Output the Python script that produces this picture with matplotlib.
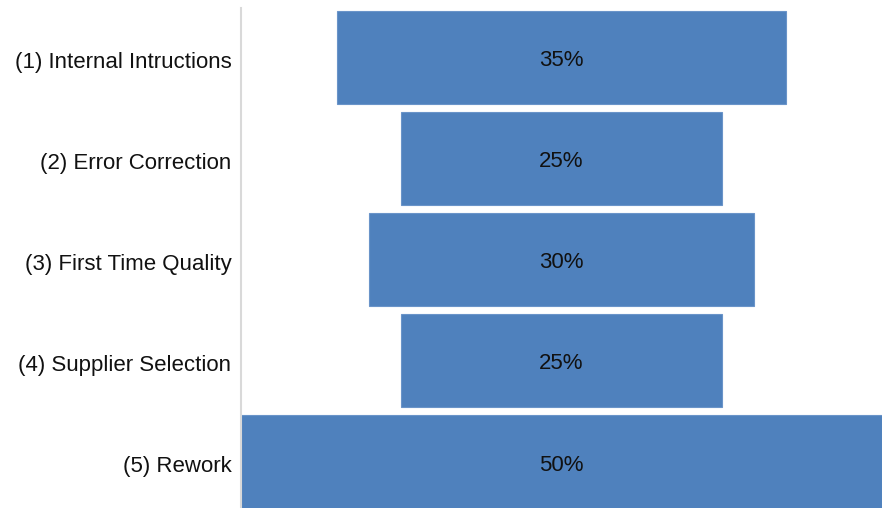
import numpy as np
import matplotlib.pyplot as plt

plt.rcParams['font.family'] = ['Liberation Sans', 'DejaVu Sans']

# 漏斗图数据
categories = ['(1) Internal Intructions', '(2) Error Correction', '(3) First Time Quality',
              '(4) Supplier Selection', '(5) Rework']
values = [35, 25, 30, 25, 50]

fig = plt.figure(figsize=(8.82, 5.08), dpi=100)
ax = fig.add_axes([241 / 882, 0, 641 / 882, 500 / 508])

y = np.arange(len(categories))
vals = np.array(values)
# 居中的条形：左端 = -v/2
ax.barh(y, vals, left=-vals / 2, height=0.92, color='#4f81bd', edgecolor='#6a94c9', linewidth=0.8)

for yi, v in zip(y, vals):
    ax.text(0, yi + 0.03, '%d%%' % v, ha='center', va='center', fontsize=16, color='#111111')

ax.set_xlim(-25, 25)
ax.set_ylim(4.455, -0.49)
ax.set_yticks(y + 0.02)
ax.set_yticklabels(categories, fontsize=16, color='#111111')
ax.tick_params(axis='y', length=0, pad=7)
ax.set_xticks([])
for s in ['top', 'right', 'bottom']:
    ax.spines[s].set_visible(False)
ax.spines['left'].set_color('#d9d9d9')
ax.spines['left'].set_linewidth(1.5)

fig.savefig('out.png', dpi=100)
